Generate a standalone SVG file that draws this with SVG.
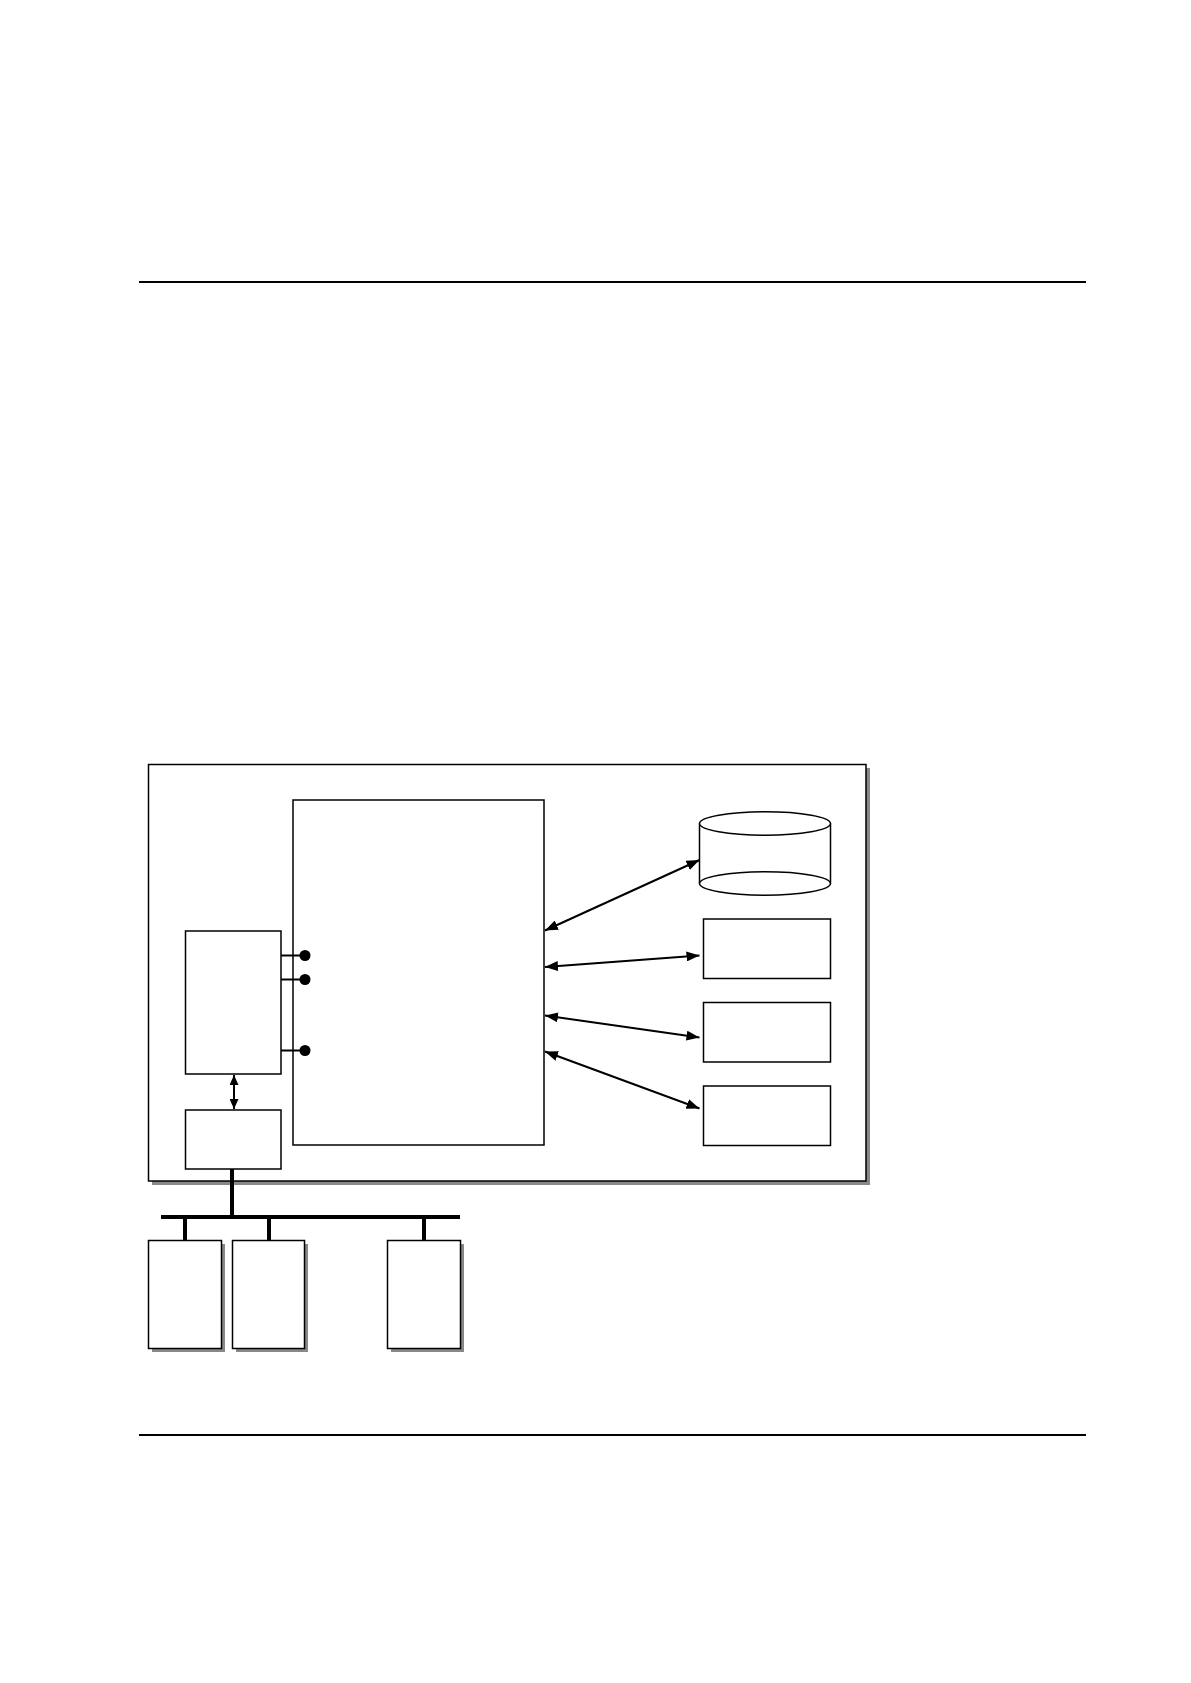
<svg xmlns="http://www.w3.org/2000/svg" width="1191" height="1683" viewBox="0 0 1191 1683">
<style>
.box{fill:#fff;stroke:#000;stroke-width:1.5}
.shadow{fill:#888}
.conn{stroke:#000;stroke-width:2;fill:none}
.bus{stroke:#000;stroke-width:4;fill:none}
.rule{stroke:#000;stroke-width:2}
</style>
<defs>
<marker id="ah" viewBox="0 0 13 10" refX="13" refY="5" markerWidth="13" markerHeight="10" markerUnits="userSpaceOnUse" orient="auto-start-reverse">
<path d="M0,0 L13,5 L0,10 z" fill="#000"/>
</marker>
<marker id="ahs" viewBox="0 0 10 9" refX="10" refY="4.5" markerWidth="10" markerHeight="9" markerUnits="userSpaceOnUse" orient="auto-start-reverse">
<path d="M0,0 L10,4.5 L0,9 z" fill="#000"/>
</marker>
</defs>
<rect width="1191" height="1683" fill="#fff"/>
<line class="rule" x1="139" y1="282" x2="1086" y2="282"/>
<line class="rule" x1="139" y1="1435" x2="1086" y2="1435"/>
<g id="system">
<rect class="shadow" x="152" y="768" width="718" height="417"/>
<rect class="box" x="148.5" y="764.5" width="717.5" height="416.5" stroke-width="2"/>
</g>
<g id="main">
<rect class="box" x="293" y="800" width="251" height="345"/>
</g>
<g id="database">
<path class="box" d="M699.5,823.5 L699.5,883.5 A65.5,11.7 0 0 0 830.5,883.5 L830.5,823.5"/>
<ellipse class="box" cx="765" cy="823.5" rx="65.5" ry="11.7"/>
<path d="M699.5,883.5 A65.5,11.7 0 0 1 830.5,883.5" fill="none" stroke="#000" stroke-width="1.5"/>
</g>
<g id="box1"><rect class="box" x="703.5" y="919" width="127" height="59.5"/></g>
<g id="box2"><rect class="box" x="703.5" y="1002.5" width="127" height="59.5"/></g>
<g id="box3"><rect class="box" x="703.5" y="1086" width="127" height="59.5"/></g>
<g id="left">
<rect class="box" x="185.5" y="931" width="95.5" height="143"/>
</g>
<g id="adapter">
<rect class="box" x="185.5" y="1110" width="95.5" height="59"/>
</g>
<g id="term1">
<rect class="shadow" x="152" y="1244" width="73" height="108"/>
<rect class="box" x="148.5" y="1240.5" width="73" height="108"/>
</g>
<g id="term2">
<rect class="shadow" x="236" y="1244" width="72" height="108"/>
<rect class="box" x="232.5" y="1240.5" width="72" height="108"/>
</g>
<g id="term3">
<rect class="shadow" x="391" y="1244" width="73" height="108"/>
<rect class="box" x="387.5" y="1240.5" width="73" height="108"/>
</g>
<g id="connectors">
<line class="conn" x1="545" y1="930.5" x2="699.5" y2="860" marker-start="url(#ah)" marker-end="url(#ah)"/>
<line class="conn" x1="545" y1="967" x2="699.5" y2="955.5" marker-start="url(#ah)" marker-end="url(#ah)"/>
<line class="conn" x1="545" y1="1015.5" x2="699.5" y2="1037.5" marker-start="url(#ah)" marker-end="url(#ah)"/>
<line class="conn" x1="545" y1="1051.5" x2="699.5" y2="1108.5" marker-start="url(#ah)" marker-end="url(#ah)"/>
<line class="conn" x1="234" y1="1075" x2="234" y2="1109" marker-start="url(#ahs)" marker-end="url(#ahs)"/>
<line class="conn" x1="281" y1="955.5" x2="305" y2="955.5"/>
<line class="conn" x1="281" y1="979.5" x2="305" y2="979.5"/>
<line class="conn" x1="281" y1="1050.5" x2="305" y2="1050.5"/>
<circle cx="305" cy="955.5" r="5.5" fill="#000"/>
<circle cx="305" cy="979.5" r="5.5" fill="#000"/>
<circle cx="305" cy="1050.5" r="5.5" fill="#000"/>
<line class="bus" x1="232" y1="1169" x2="232" y2="1217"/>
<line class="bus" x1="161" y1="1217" x2="460" y2="1217"/>
<line class="bus" x1="185" y1="1217" x2="185" y2="1241"/>
<line class="bus" x1="269" y1="1217" x2="269" y2="1241"/>
<line class="bus" x1="424" y1="1217" x2="424" y2="1241"/>
</g>
</svg>
